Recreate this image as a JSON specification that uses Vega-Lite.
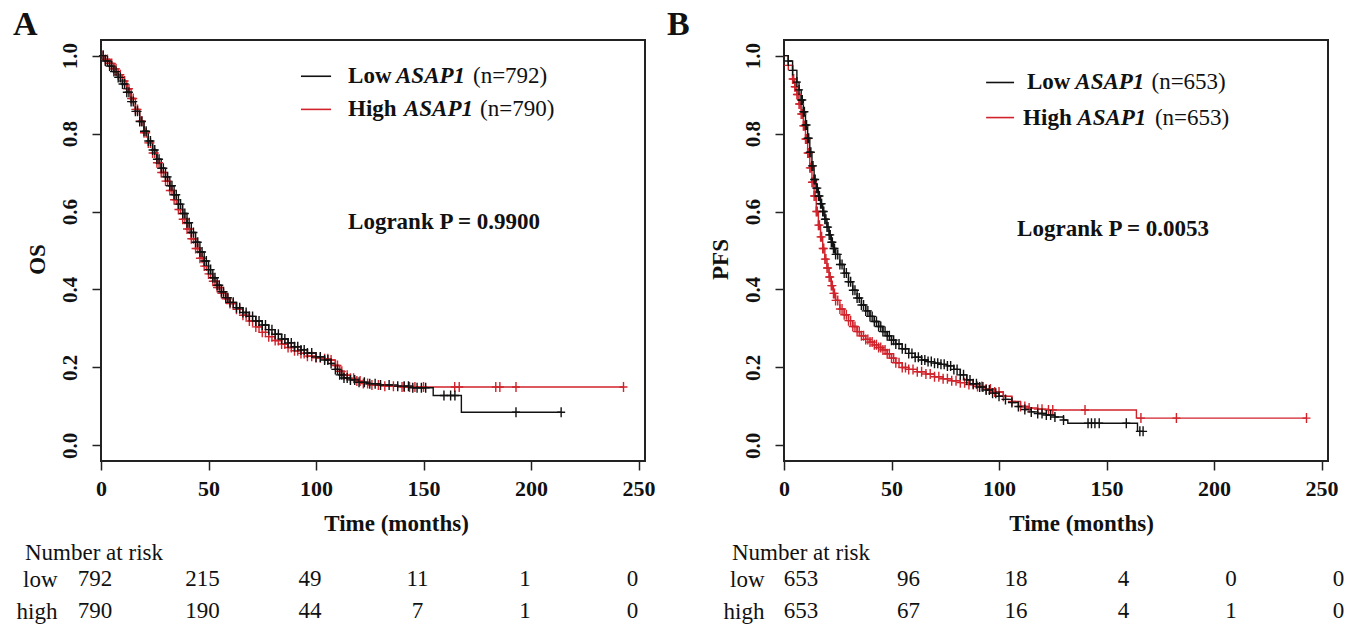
{
"$schema":"https://vega.github.io/schema/vega-lite/v6.json",
"background":"white",
"padding":{"left":12,"top":7,"right":5,"bottom":0},
"columns":2,
"bounds":"flush",
"spacing":{"row":102,"column":139},
"config":{"font":"Liberation Serif","view":{"stroke":"#222","strokeWidth":2},
"axis":{"grid":false,"domain":false,"tickColor":"#222","tickWidth":1.5,"tickSize":9,"labelColor":"#111","titleColor":"#111","labelFontSize":22,"labelFontWeight":"bold","titleFontSize":23,"titleFontWeight":"bold"},
"title":{"color":"#111"}},
"datasets":{
"km":[
{"p":"A","g":"High","t":0,"s":1,"c":0},{"p":"A","g":"High","t":2,"s":0.99,"c":1},{"p":"A","g":"High","t":4,"s":0.98,"c":1},{"p":"A","g":"High","t":6,"s":0.966,"c":1},{"p":"A","g":"High","t":8,"s":0.951,"c":1},{"p":"A","g":"High","t":10,"s":0.935,"c":1},{"p":"A","g":"High","t":12,"s":0.915,"c":1},{"p":"A","g":"High","t":14,"s":0.89,"c":1},{"p":"A","g":"High","t":16,"s":0.862,"c":1},{"p":"A","g":"High","t":18,"s":0.832,"c":1},{"p":"A","g":"High","t":20,"s":0.802,"c":1},{"p":"A","g":"High","t":22,"s":0.776,"c":1},{"p":"A","g":"High","t":24,"s":0.75,"c":1},{"p":"A","g":"High","t":26,"s":0.725,"c":1},{"p":"A","g":"High","t":28,"s":0.7,"c":1},{"p":"A","g":"High","t":30,"s":0.678,"c":1},{"p":"A","g":"High","t":32,"s":0.654,"c":1},{"p":"A","g":"High","t":34,"s":0.63,"c":1},{"p":"A","g":"High","t":36,"s":0.605,"c":1},{"p":"A","g":"High","t":38,"s":0.58,"c":1},{"p":"A","g":"High","t":40,"s":0.555,"c":1},{"p":"A","g":"High","t":42,"s":0.53,"c":1},{"p":"A","g":"High","t":44,"s":0.505,"c":1},{"p":"A","g":"High","t":46,"s":0.48,"c":1},{"p":"A","g":"High","t":48,"s":0.46,"c":1},{"p":"A","g":"High","t":50,"s":0.44,"c":1},{"p":"A","g":"High","t":52,"s":0.421,"c":1},{"p":"A","g":"High","t":54,"s":0.405,"c":1},{"p":"A","g":"High","t":56,"s":0.39,"c":1},{"p":"A","g":"High","t":58,"s":0.376,"c":1},{"p":"A","g":"High","t":60,"s":0.364,"c":1},{"p":"A","g":"High","t":63,"s":0.349,"c":1},{"p":"A","g":"High","t":66,"s":0.334,"c":1},{"p":"A","g":"High","t":69,"s":0.319,"c":1},{"p":"A","g":"High","t":72,"s":0.304,"c":1},{"p":"A","g":"High","t":75,"s":0.29,"c":1},{"p":"A","g":"High","t":78,"s":0.279,"c":1},{"p":"A","g":"High","t":81,"s":0.269,"c":1},{"p":"A","g":"High","t":84,"s":0.26,"c":1},{"p":"A","g":"High","t":87,"s":0.251,"c":1},{"p":"A","g":"High","t":90,"s":0.243,"c":1},{"p":"A","g":"High","t":93,"s":0.236,"c":1},{"p":"A","g":"High","t":96,"s":0.229,"c":1},{"p":"A","g":"High","t":100,"s":0.225,"c":1},{"p":"A","g":"High","t":104,"s":0.222,"c":1},{"p":"A","g":"High","t":107,"s":0.219,"c":1},{"p":"A","g":"High","t":109,"s":0.205,"c":1},{"p":"A","g":"High","t":111,"s":0.19,"c":1},{"p":"A","g":"High","t":113,"s":0.18,"c":1},{"p":"A","g":"High","t":116,"s":0.172,"c":1},{"p":"A","g":"High","t":119,"s":0.165,"c":1},{"p":"A","g":"High","t":122,"s":0.159,"c":1},{"p":"A","g":"High","t":126,"s":0.155,"c":1},{"p":"A","g":"High","t":132,"s":0.152,"c":1},{"p":"A","g":"High","t":140,"s":0.15,"c":1},{"p":"A","g":"High","t":141,"s":0.15,"c":1},{"p":"A","g":"High","t":143.5,"s":0.15,"c":1},{"p":"A","g":"High","t":146,"s":0.15,"c":1},{"p":"A","g":"High","t":150,"s":0.15,"c":1},{"p":"A","g":"High","t":164.5,"s":0.15,"c":1},{"p":"A","g":"High","t":166.6,"s":0.15,"c":1},{"p":"A","g":"High","t":183.6,"s":0.15,"c":1},{"p":"A","g":"High","t":185.5,"s":0.15,"c":1},{"p":"A","g":"High","t":193,"s":0.15,"c":1},{"p":"A","g":"High","t":243,"s":0.15,"c":1},
{"p":"A","g":"High","t":1,"s":1,"c":1},{"p":"A","g":"High","t":3,"s":0.99,"c":1},{"p":"A","g":"High","t":5,"s":0.98,"c":1},{"p":"A","g":"High","t":7,"s":0.966,"c":1},{"p":"A","g":"High","t":9,"s":0.951,"c":1},{"p":"A","g":"High","t":11,"s":0.935,"c":1},{"p":"A","g":"High","t":13,"s":0.915,"c":1},{"p":"A","g":"High","t":15,"s":0.89,"c":1},{"p":"A","g":"High","t":17,"s":0.862,"c":1},{"p":"A","g":"High","t":19,"s":0.832,"c":1},{"p":"A","g":"High","t":21,"s":0.802,"c":1},{"p":"A","g":"High","t":23,"s":0.776,"c":1},{"p":"A","g":"High","t":25,"s":0.75,"c":1},{"p":"A","g":"High","t":27,"s":0.725,"c":1},{"p":"A","g":"High","t":29,"s":0.7,"c":1},{"p":"A","g":"High","t":31,"s":0.678,"c":1},{"p":"A","g":"High","t":33,"s":0.654,"c":1},{"p":"A","g":"High","t":35,"s":0.63,"c":1},{"p":"A","g":"High","t":37,"s":0.605,"c":1},{"p":"A","g":"High","t":39,"s":0.58,"c":1},{"p":"A","g":"High","t":41,"s":0.555,"c":1},{"p":"A","g":"High","t":43,"s":0.53,"c":1},{"p":"A","g":"High","t":45,"s":0.505,"c":1},{"p":"A","g":"High","t":47,"s":0.48,"c":1},{"p":"A","g":"High","t":49,"s":0.46,"c":1},{"p":"A","g":"High","t":51,"s":0.44,"c":1},{"p":"A","g":"High","t":53,"s":0.421,"c":1},{"p":"A","g":"High","t":55,"s":0.405,"c":1},{"p":"A","g":"High","t":57,"s":0.39,"c":1},{"p":"A","g":"High","t":59,"s":0.376,"c":1},{"p":"A","g":"High","t":61.5,"s":0.364,"c":1},{"p":"A","g":"High","t":64.5,"s":0.349,"c":1},{"p":"A","g":"High","t":67.5,"s":0.334,"c":1},{"p":"A","g":"High","t":70.5,"s":0.319,"c":1},{"p":"A","g":"High","t":73.5,"s":0.304,"c":1},{"p":"A","g":"High","t":76.5,"s":0.29,"c":1},{"p":"A","g":"High","t":79.5,"s":0.279,"c":1},{"p":"A","g":"High","t":82.5,"s":0.269,"c":1},{"p":"A","g":"High","t":85.5,"s":0.26,"c":1},{"p":"A","g":"High","t":88.5,"s":0.251,"c":1},{"p":"A","g":"High","t":91.5,"s":0.243,"c":1},{"p":"A","g":"High","t":94.5,"s":0.236,"c":1},{"p":"A","g":"High","t":98,"s":0.229,"c":1},{"p":"A","g":"High","t":102,"s":0.225,"c":1},{"p":"A","g":"High","t":105.5,"s":0.222,"c":1},{"p":"A","g":"High","t":110,"s":0.205,"c":1},{"p":"A","g":"High","t":112,"s":0.19,"c":1},{"p":"A","g":"High","t":114.5,"s":0.18,"c":1},{"p":"A","g":"High","t":117.5,"s":0.172,"c":1},{"p":"A","g":"High","t":120.5,"s":0.165,"c":1},{"p":"A","g":"High","t":124,"s":0.159,"c":1},{"p":"A","g":"High","t":129,"s":0.155,"c":1},{"p":"A","g":"High","t":136,"s":0.152,"c":1},
{"p":"A","g":"Low","t":0,"s":1,"c":0},{"p":"A","g":"Low","t":2,"s":0.986,"c":1},{"p":"A","g":"Low","t":4,"s":0.973,"c":1},{"p":"A","g":"Low","t":6,"s":0.959,"c":1},{"p":"A","g":"Low","t":8,"s":0.944,"c":1},{"p":"A","g":"Low","t":10,"s":0.927,"c":1},{"p":"A","g":"Low","t":12,"s":0.906,"c":1},{"p":"A","g":"Low","t":14,"s":0.882,"c":1},{"p":"A","g":"Low","t":16,"s":0.857,"c":1},{"p":"A","g":"Low","t":18,"s":0.831,"c":1},{"p":"A","g":"Low","t":20,"s":0.806,"c":1},{"p":"A","g":"Low","t":22,"s":0.781,"c":1},{"p":"A","g":"Low","t":24,"s":0.758,"c":1},{"p":"A","g":"Low","t":26,"s":0.734,"c":1},{"p":"A","g":"Low","t":28,"s":0.711,"c":1},{"p":"A","g":"Low","t":30,"s":0.689,"c":1},{"p":"A","g":"Low","t":32,"s":0.666,"c":1},{"p":"A","g":"Low","t":34,"s":0.643,"c":1},{"p":"A","g":"Low","t":36,"s":0.619,"c":1},{"p":"A","g":"Low","t":38,"s":0.595,"c":1},{"p":"A","g":"Low","t":40,"s":0.571,"c":1},{"p":"A","g":"Low","t":42,"s":0.546,"c":1},{"p":"A","g":"Low","t":44,"s":0.521,"c":1},{"p":"A","g":"Low","t":46,"s":0.496,"c":1},{"p":"A","g":"Low","t":48,"s":0.473,"c":1},{"p":"A","g":"Low","t":50,"s":0.451,"c":1},{"p":"A","g":"Low","t":52,"s":0.43,"c":1},{"p":"A","g":"Low","t":54,"s":0.411,"c":1},{"p":"A","g":"Low","t":56,"s":0.394,"c":1},{"p":"A","g":"Low","t":58,"s":0.379,"c":1},{"p":"A","g":"Low","t":60,"s":0.367,"c":1},{"p":"A","g":"Low","t":63,"s":0.353,"c":1},{"p":"A","g":"Low","t":66,"s":0.341,"c":1},{"p":"A","g":"Low","t":69,"s":0.331,"c":1},{"p":"A","g":"Low","t":72,"s":0.319,"c":1},{"p":"A","g":"Low","t":75,"s":0.309,"c":1},{"p":"A","g":"Low","t":78,"s":0.297,"c":1},{"p":"A","g":"Low","t":81,"s":0.285,"c":1},{"p":"A","g":"Low","t":84,"s":0.273,"c":1},{"p":"A","g":"Low","t":87,"s":0.263,"c":1},{"p":"A","g":"Low","t":90,"s":0.253,"c":1},{"p":"A","g":"Low","t":93,"s":0.245,"c":1},{"p":"A","g":"Low","t":96,"s":0.237,"c":1},{"p":"A","g":"Low","t":100,"s":0.227,"c":1},{"p":"A","g":"Low","t":104,"s":0.219,"c":1},{"p":"A","g":"Low","t":107,"s":0.21,"c":1},{"p":"A","g":"Low","t":109,"s":0.195,"c":1},{"p":"A","g":"Low","t":111,"s":0.181,"c":1},{"p":"A","g":"Low","t":113,"s":0.173,"c":1},{"p":"A","g":"Low","t":116,"s":0.168,"c":1},{"p":"A","g":"Low","t":120,"s":0.162,"c":1},{"p":"A","g":"Low","t":125,"s":0.158,"c":1},{"p":"A","g":"Low","t":130,"s":0.155,"c":1},{"p":"A","g":"Low","t":138,"s":0.152,"c":1},{"p":"A","g":"Low","t":141,"s":0.152,"c":1},{"p":"A","g":"Low","t":143,"s":0.152,"c":1},{"p":"A","g":"Low","t":145,"s":0.148,"c":1},{"p":"A","g":"Low","t":147,"s":0.148,"c":1},{"p":"A","g":"Low","t":149,"s":0.148,"c":1},{"p":"A","g":"Low","t":151,"s":0.148,"c":1},{"p":"A","g":"Low","t":154.5,"s":0.128,"c":0},{"p":"A","g":"Low","t":159.5,"s":0.128,"c":1},{"p":"A","g":"Low","t":162.6,"s":0.128,"c":1},{"p":"A","g":"Low","t":164.6,"s":0.128,"c":1},{"p":"A","g":"Low","t":167.6,"s":0.085,"c":0},{"p":"A","g":"Low","t":193,"s":0.085,"c":1},{"p":"A","g":"Low","t":214,"s":0.085,"c":1},
{"p":"A","g":"Low","t":1,"s":1,"c":1},{"p":"A","g":"Low","t":3,"s":0.986,"c":1},{"p":"A","g":"Low","t":5,"s":0.973,"c":1},{"p":"A","g":"Low","t":7,"s":0.959,"c":1},{"p":"A","g":"Low","t":9,"s":0.944,"c":1},{"p":"A","g":"Low","t":11,"s":0.927,"c":1},{"p":"A","g":"Low","t":13,"s":0.906,"c":1},{"p":"A","g":"Low","t":15,"s":0.882,"c":1},{"p":"A","g":"Low","t":17,"s":0.857,"c":1},{"p":"A","g":"Low","t":19,"s":0.831,"c":1},{"p":"A","g":"Low","t":21,"s":0.806,"c":1},{"p":"A","g":"Low","t":23,"s":0.781,"c":1},{"p":"A","g":"Low","t":25,"s":0.758,"c":1},{"p":"A","g":"Low","t":27,"s":0.734,"c":1},{"p":"A","g":"Low","t":29,"s":0.711,"c":1},{"p":"A","g":"Low","t":31,"s":0.689,"c":1},{"p":"A","g":"Low","t":33,"s":0.666,"c":1},{"p":"A","g":"Low","t":35,"s":0.643,"c":1},{"p":"A","g":"Low","t":37,"s":0.619,"c":1},{"p":"A","g":"Low","t":39,"s":0.595,"c":1},{"p":"A","g":"Low","t":41,"s":0.571,"c":1},{"p":"A","g":"Low","t":43,"s":0.546,"c":1},{"p":"A","g":"Low","t":45,"s":0.521,"c":1},{"p":"A","g":"Low","t":47,"s":0.496,"c":1},{"p":"A","g":"Low","t":49,"s":0.473,"c":1},{"p":"A","g":"Low","t":51,"s":0.451,"c":1},{"p":"A","g":"Low","t":53,"s":0.43,"c":1},{"p":"A","g":"Low","t":55,"s":0.411,"c":1},{"p":"A","g":"Low","t":57,"s":0.394,"c":1},{"p":"A","g":"Low","t":59,"s":0.379,"c":1},{"p":"A","g":"Low","t":61.5,"s":0.367,"c":1},{"p":"A","g":"Low","t":64.5,"s":0.353,"c":1},{"p":"A","g":"Low","t":67.5,"s":0.341,"c":1},{"p":"A","g":"Low","t":70.5,"s":0.331,"c":1},{"p":"A","g":"Low","t":73.5,"s":0.319,"c":1},{"p":"A","g":"Low","t":76.5,"s":0.309,"c":1},{"p":"A","g":"Low","t":79.5,"s":0.297,"c":1},{"p":"A","g":"Low","t":82.5,"s":0.285,"c":1},{"p":"A","g":"Low","t":85.5,"s":0.273,"c":1},{"p":"A","g":"Low","t":88.5,"s":0.263,"c":1},{"p":"A","g":"Low","t":91.5,"s":0.253,"c":1},{"p":"A","g":"Low","t":94.5,"s":0.245,"c":1},{"p":"A","g":"Low","t":98,"s":0.237,"c":1},{"p":"A","g":"Low","t":102,"s":0.227,"c":1},{"p":"A","g":"Low","t":105.5,"s":0.219,"c":1},{"p":"A","g":"Low","t":110,"s":0.195,"c":1},{"p":"A","g":"Low","t":112,"s":0.181,"c":1},{"p":"A","g":"Low","t":114.5,"s":0.173,"c":1},{"p":"A","g":"Low","t":118,"s":0.168,"c":1},{"p":"A","g":"Low","t":122.5,"s":0.162,"c":1},{"p":"A","g":"Low","t":127.5,"s":0.158,"c":1},{"p":"A","g":"Low","t":134,"s":0.155,"c":1},
{"p":"B","g":"High","t":0,"s":1,"c":0},{"p":"B","g":"High","t":2,"s":0.975,"c":1},{"p":"B","g":"High","t":4,"s":0.94,"c":1},{"p":"B","g":"High","t":5,"s":0.92,"c":1},{"p":"B","g":"High","t":6,"s":0.9,"c":1},{"p":"B","g":"High","t":7,"s":0.876,"c":1},{"p":"B","g":"High","t":8,"s":0.85,"c":1},{"p":"B","g":"High","t":9,"s":0.82,"c":1},{"p":"B","g":"High","t":10,"s":0.786,"c":1},{"p":"B","g":"High","t":11,"s":0.75,"c":1},{"p":"B","g":"High","t":12,"s":0.712,"c":1},{"p":"B","g":"High","t":13,"s":0.675,"c":1},{"p":"B","g":"High","t":14,"s":0.64,"c":1},{"p":"B","g":"High","t":15,"s":0.6,"c":1},{"p":"B","g":"High","t":16,"s":0.565,"c":1},{"p":"B","g":"High","t":17,"s":0.535,"c":1},{"p":"B","g":"High","t":18,"s":0.505,"c":1},{"p":"B","g":"High","t":19,"s":0.478,"c":1},{"p":"B","g":"High","t":20,"s":0.455,"c":1},{"p":"B","g":"High","t":21,"s":0.432,"c":1},{"p":"B","g":"High","t":22,"s":0.41,"c":1},{"p":"B","g":"High","t":23,"s":0.39,"c":1},{"p":"B","g":"High","t":24,"s":0.372,"c":1},{"p":"B","g":"High","t":26,"s":0.35,"c":1},{"p":"B","g":"High","t":28,"s":0.335,"c":1},{"p":"B","g":"High","t":30,"s":0.32,"c":1},{"p":"B","g":"High","t":32,"s":0.305,"c":1},{"p":"B","g":"High","t":34,"s":0.292,"c":1},{"p":"B","g":"High","t":36,"s":0.281,"c":1},{"p":"B","g":"High","t":38,"s":0.272,"c":1},{"p":"B","g":"High","t":40,"s":0.265,"c":1},{"p":"B","g":"High","t":42,"s":0.258,"c":1},{"p":"B","g":"High","t":44,"s":0.251,"c":1},{"p":"B","g":"High","t":46,"s":0.245,"c":1},{"p":"B","g":"High","t":48,"s":0.235,"c":1},{"p":"B","g":"High","t":50,"s":0.224,"c":1},{"p":"B","g":"High","t":52,"s":0.212,"c":1},{"p":"B","g":"High","t":55,"s":0.2,"c":1},{"p":"B","g":"High","t":58,"s":0.195,"c":1},{"p":"B","g":"High","t":62,"s":0.189,"c":1},{"p":"B","g":"High","t":66,"s":0.183,"c":1},{"p":"B","g":"High","t":70,"s":0.176,"c":1},{"p":"B","g":"High","t":74,"s":0.171,"c":1},{"p":"B","g":"High","t":78,"s":0.166,"c":1},{"p":"B","g":"High","t":82,"s":0.161,"c":1},{"p":"B","g":"High","t":86,"s":0.156,"c":1},{"p":"B","g":"High","t":90,"s":0.151,"c":1},{"p":"B","g":"High","t":94,"s":0.145,"c":1},{"p":"B","g":"High","t":98,"s":0.137,"c":1},{"p":"B","g":"High","t":102,"s":0.126,"c":1},{"p":"B","g":"High","t":106,"s":0.113,"c":1},{"p":"B","g":"High","t":110,"s":0.1,"c":1},{"p":"B","g":"High","t":112,"s":0.1,"c":1},{"p":"B","g":"High","t":114,"s":0.096,"c":1},{"p":"B","g":"High","t":118,"s":0.093,"c":1},{"p":"B","g":"High","t":120,"s":0.093,"c":1},{"p":"B","g":"High","t":123,"s":0.091,"c":1},{"p":"B","g":"High","t":125,"s":0.091,"c":1},{"p":"B","g":"High","t":140,"s":0.091,"c":1},{"p":"B","g":"High","t":163.9,"s":0.07,"c":0},{"p":"B","g":"High","t":166,"s":0.07,"c":1},{"p":"B","g":"High","t":182.5,"s":0.07,"c":1},{"p":"B","g":"High","t":243,"s":0.07,"c":1},
{"p":"B","g":"High","t":4.5,"s":0.94,"c":1},{"p":"B","g":"High","t":5.5,"s":0.92,"c":1},{"p":"B","g":"High","t":6.5,"s":0.9,"c":1},{"p":"B","g":"High","t":7.5,"s":0.876,"c":1},{"p":"B","g":"High","t":8.5,"s":0.85,"c":1},{"p":"B","g":"High","t":9.5,"s":0.82,"c":1},{"p":"B","g":"High","t":10.5,"s":0.786,"c":1},{"p":"B","g":"High","t":11.5,"s":0.75,"c":1},{"p":"B","g":"High","t":12.5,"s":0.712,"c":1},{"p":"B","g":"High","t":13.5,"s":0.675,"c":1},{"p":"B","g":"High","t":14.5,"s":0.64,"c":1},{"p":"B","g":"High","t":15.5,"s":0.6,"c":1},{"p":"B","g":"High","t":16.5,"s":0.565,"c":1},{"p":"B","g":"High","t":17.5,"s":0.535,"c":1},{"p":"B","g":"High","t":18.5,"s":0.505,"c":1},{"p":"B","g":"High","t":19.5,"s":0.478,"c":1},{"p":"B","g":"High","t":20.5,"s":0.455,"c":1},{"p":"B","g":"High","t":21.5,"s":0.432,"c":1},{"p":"B","g":"High","t":22.5,"s":0.41,"c":1},{"p":"B","g":"High","t":23.5,"s":0.39,"c":1},{"p":"B","g":"High","t":25,"s":0.372,"c":1},{"p":"B","g":"High","t":27,"s":0.35,"c":1},{"p":"B","g":"High","t":29,"s":0.335,"c":1},{"p":"B","g":"High","t":31,"s":0.32,"c":1},{"p":"B","g":"High","t":33,"s":0.305,"c":1},{"p":"B","g":"High","t":35,"s":0.292,"c":1},{"p":"B","g":"High","t":37,"s":0.281,"c":1},{"p":"B","g":"High","t":39,"s":0.272,"c":1},{"p":"B","g":"High","t":41,"s":0.265,"c":1},{"p":"B","g":"High","t":43,"s":0.258,"c":1},{"p":"B","g":"High","t":45,"s":0.251,"c":1},{"p":"B","g":"High","t":47,"s":0.245,"c":1},{"p":"B","g":"High","t":49,"s":0.235,"c":1},{"p":"B","g":"High","t":51,"s":0.224,"c":1},{"p":"B","g":"High","t":53.5,"s":0.212,"c":1},{"p":"B","g":"High","t":56.5,"s":0.2,"c":1},{"p":"B","g":"High","t":60,"s":0.195,"c":1},{"p":"B","g":"High","t":64,"s":0.189,"c":1},{"p":"B","g":"High","t":68,"s":0.183,"c":1},{"p":"B","g":"High","t":72,"s":0.176,"c":1},{"p":"B","g":"High","t":76,"s":0.171,"c":1},{"p":"B","g":"High","t":80,"s":0.166,"c":1},{"p":"B","g":"High","t":84,"s":0.161,"c":1},{"p":"B","g":"High","t":88,"s":0.156,"c":1},{"p":"B","g":"High","t":92,"s":0.151,"c":1},{"p":"B","g":"High","t":96,"s":0.145,"c":1},{"p":"B","g":"High","t":100,"s":0.137,"c":1},
{"p":"B","g":"Low","t":0,"s":1,"c":0},{"p":"B","g":"Low","t":2,"s":0.986,"c":1},{"p":"B","g":"Low","t":4,"s":0.962,"c":1},{"p":"B","g":"Low","t":6,"s":0.932,"c":1},{"p":"B","g":"Low","t":7,"s":0.912,"c":1},{"p":"B","g":"Low","t":8,"s":0.886,"c":1},{"p":"B","g":"Low","t":9,"s":0.856,"c":1},{"p":"B","g":"Low","t":10,"s":0.822,"c":1},{"p":"B","g":"Low","t":11,"s":0.788,"c":1},{"p":"B","g":"Low","t":12,"s":0.752,"c":1},{"p":"B","g":"Low","t":13,"s":0.717,"c":1},{"p":"B","g":"Low","t":14,"s":0.682,"c":1},{"p":"B","g":"Low","t":15,"s":0.66,"c":1},{"p":"B","g":"Low","t":16,"s":0.64,"c":1},{"p":"B","g":"Low","t":17,"s":0.62,"c":1},{"p":"B","g":"Low","t":18,"s":0.6,"c":1},{"p":"B","g":"Low","t":19,"s":0.58,"c":1},{"p":"B","g":"Low","t":20,"s":0.56,"c":1},{"p":"B","g":"Low","t":21,"s":0.54,"c":1},{"p":"B","g":"Low","t":22,"s":0.521,"c":1},{"p":"B","g":"Low","t":23,"s":0.505,"c":1},{"p":"B","g":"Low","t":24,"s":0.49,"c":1},{"p":"B","g":"Low","t":26,"s":0.464,"c":1},{"p":"B","g":"Low","t":28,"s":0.442,"c":1},{"p":"B","g":"Low","t":30,"s":0.42,"c":1},{"p":"B","g":"Low","t":32,"s":0.398,"c":1},{"p":"B","g":"Low","t":34,"s":0.378,"c":1},{"p":"B","g":"Low","t":36,"s":0.36,"c":1},{"p":"B","g":"Low","t":38,"s":0.345,"c":1},{"p":"B","g":"Low","t":40,"s":0.331,"c":1},{"p":"B","g":"Low","t":42,"s":0.318,"c":1},{"p":"B","g":"Low","t":44,"s":0.305,"c":1},{"p":"B","g":"Low","t":46,"s":0.292,"c":1},{"p":"B","g":"Low","t":48,"s":0.281,"c":1},{"p":"B","g":"Low","t":50,"s":0.27,"c":1},{"p":"B","g":"Low","t":52,"s":0.26,"c":1},{"p":"B","g":"Low","t":55,"s":0.248,"c":1},{"p":"B","g":"Low","t":58,"s":0.236,"c":1},{"p":"B","g":"Low","t":61,"s":0.226,"c":1},{"p":"B","g":"Low","t":64,"s":0.219,"c":1},{"p":"B","g":"Low","t":67,"s":0.215,"c":1},{"p":"B","g":"Low","t":70,"s":0.211,"c":1},{"p":"B","g":"Low","t":73,"s":0.208,"c":1},{"p":"B","g":"Low","t":76,"s":0.204,"c":1},{"p":"B","g":"Low","t":79,"s":0.195,"c":1},{"p":"B","g":"Low","t":82,"s":0.181,"c":1},{"p":"B","g":"Low","t":85,"s":0.168,"c":1},{"p":"B","g":"Low","t":88,"s":0.158,"c":1},{"p":"B","g":"Low","t":91,"s":0.15,"c":1},{"p":"B","g":"Low","t":94,"s":0.142,"c":1},{"p":"B","g":"Low","t":97,"s":0.134,"c":1},{"p":"B","g":"Low","t":100,"s":0.126,"c":1},{"p":"B","g":"Low","t":103,"s":0.118,"c":1},{"p":"B","g":"Low","t":106,"s":0.11,"c":1},{"p":"B","g":"Low","t":109,"s":0.1,"c":1},{"p":"B","g":"Low","t":112,"s":0.092,"c":1},{"p":"B","g":"Low","t":115,"s":0.086,"c":1},{"p":"B","g":"Low","t":118,"s":0.082,"c":1},{"p":"B","g":"Low","t":120,"s":0.082,"c":1},{"p":"B","g":"Low","t":122,"s":0.078,"c":1},{"p":"B","g":"Low","t":124,"s":0.078,"c":1},{"p":"B","g":"Low","t":126,"s":0.073,"c":1},{"p":"B","g":"Low","t":130,"s":0.065,"c":1},{"p":"B","g":"Low","t":132,"s":0.057,"c":0},{"p":"B","g":"Low","t":141.4,"s":0.057,"c":1},{"p":"B","g":"Low","t":143,"s":0.057,"c":1},{"p":"B","g":"Low","t":144.6,"s":0.057,"c":1},{"p":"B","g":"Low","t":146.6,"s":0.057,"c":1},{"p":"B","g":"Low","t":159.2,"s":0.057,"c":1},{"p":"B","g":"Low","t":164.4,"s":0.036,"c":0},{"p":"B","g":"Low","t":165.5,"s":0.036,"c":1},{"p":"B","g":"Low","t":167,"s":0.036,"c":1},
{"p":"B","g":"Low","t":8.5,"s":0.886,"c":1},{"p":"B","g":"Low","t":9.5,"s":0.856,"c":1},{"p":"B","g":"Low","t":10.5,"s":0.822,"c":1},{"p":"B","g":"Low","t":11.5,"s":0.788,"c":1},{"p":"B","g":"Low","t":12.5,"s":0.752,"c":1},{"p":"B","g":"Low","t":13.5,"s":0.717,"c":1},{"p":"B","g":"Low","t":14.5,"s":0.682,"c":1},{"p":"B","g":"Low","t":15.5,"s":0.66,"c":1},{"p":"B","g":"Low","t":16.5,"s":0.64,"c":1},{"p":"B","g":"Low","t":17.5,"s":0.62,"c":1},{"p":"B","g":"Low","t":18.5,"s":0.6,"c":1},{"p":"B","g":"Low","t":19.5,"s":0.58,"c":1},{"p":"B","g":"Low","t":20.5,"s":0.56,"c":1},{"p":"B","g":"Low","t":21.5,"s":0.54,"c":1},{"p":"B","g":"Low","t":22.5,"s":0.521,"c":1},{"p":"B","g":"Low","t":23.5,"s":0.505,"c":1},{"p":"B","g":"Low","t":25,"s":0.49,"c":1},{"p":"B","g":"Low","t":27,"s":0.464,"c":1},{"p":"B","g":"Low","t":29,"s":0.442,"c":1},{"p":"B","g":"Low","t":31,"s":0.42,"c":1},{"p":"B","g":"Low","t":33,"s":0.398,"c":1},{"p":"B","g":"Low","t":35,"s":0.378,"c":1},{"p":"B","g":"Low","t":37,"s":0.36,"c":1},{"p":"B","g":"Low","t":39,"s":0.345,"c":1},{"p":"B","g":"Low","t":41,"s":0.331,"c":1},{"p":"B","g":"Low","t":43,"s":0.318,"c":1},{"p":"B","g":"Low","t":45,"s":0.305,"c":1},{"p":"B","g":"Low","t":47,"s":0.292,"c":1},{"p":"B","g":"Low","t":49,"s":0.281,"c":1},{"p":"B","g":"Low","t":51,"s":0.27,"c":1},{"p":"B","g":"Low","t":53.5,"s":0.26,"c":1},{"p":"B","g":"Low","t":56.5,"s":0.248,"c":1},{"p":"B","g":"Low","t":59.5,"s":0.236,"c":1},{"p":"B","g":"Low","t":62.5,"s":0.226,"c":1},{"p":"B","g":"Low","t":65.5,"s":0.219,"c":1},{"p":"B","g":"Low","t":68.5,"s":0.215,"c":1},{"p":"B","g":"Low","t":71.5,"s":0.211,"c":1},{"p":"B","g":"Low","t":74.5,"s":0.208,"c":1},{"p":"B","g":"Low","t":77.5,"s":0.204,"c":1},{"p":"B","g":"Low","t":80.5,"s":0.195,"c":1},{"p":"B","g":"Low","t":83.5,"s":0.181,"c":1},{"p":"B","g":"Low","t":86.5,"s":0.168,"c":1},{"p":"B","g":"Low","t":89.5,"s":0.158,"c":1},{"p":"B","g":"Low","t":92.5,"s":0.15,"c":1},{"p":"B","g":"Low","t":95.5,"s":0.142,"c":1},{"p":"B","g":"Low","t":98.5,"s":0.134,"c":1}
],
"legline":[
{"p":"A","g":"Low","t":93,"t2":107,"s":0.947},{"p":"A","g":"High","t":93,"t2":107,"s":0.862},
{"p":"B","g":"Low","t":94,"t2":107,"s":0.931},{"p":"B","g":"High","t":94,"t2":107,"s":0.841}
],
"leg":[
{"p":"A","seg":"b","t":114.9,"s":0.947,"txt":"Low"},{"p":"A","seg":"i","t":137.2,"s":0.947,"txt":"ASAP1"},{"p":"A","seg":"r","t":173.0,"s":0.947,"txt":"(n=792)"},
{"p":"A","seg":"b","t":114.9,"s":0.862,"txt":"High"},{"p":"A","seg":"i","t":140.9,"s":0.862,"txt":"ASAP1"},{"p":"A","seg":"r","t":176.3,"s":0.862,"txt":"(n=790)"},
{"p":"B","seg":"b","t":113,"s":0.931,"txt":"Low"},{"p":"B","seg":"i","t":135.5,"s":0.931,"txt":"ASAP1"},{"p":"B","seg":"r","t":170.9,"s":0.931,"txt":"(n=653)"},
{"p":"B","seg":"b","t":111.2,"s":0.841,"txt":"High"},{"p":"B","seg":"i","t":136.4,"s":0.841,"txt":"ASAP1"},{"p":"B","seg":"r","t":172.5,"s":0.841,"txt":"(n=653)"}
],
"logrank":[
{"p":"A","t":114.9,"s":0.572,"txt":"Logrank P = 0.9900"},
{"p":"B","t":108.4,"s":0.555,"txt":"Logrank P = 0.0053"}
],
"risk":[
{"p":"A","row":"low","t":0,"n":792},{"p":"A","row":"low","t":50,"n":215},{"p":"A","row":"low","t":100,"n":49},{"p":"A","row":"low","t":150,"n":11},{"p":"A","row":"low","t":200,"n":1},{"p":"A","row":"low","t":250,"n":0},
{"p":"A","row":"high","t":0,"n":790},{"p":"A","row":"high","t":50,"n":190},{"p":"A","row":"high","t":100,"n":44},{"p":"A","row":"high","t":150,"n":7},{"p":"A","row":"high","t":200,"n":1},{"p":"A","row":"high","t":250,"n":0},
{"p":"B","row":"low","t":0,"n":653},{"p":"B","row":"low","t":50,"n":96},{"p":"B","row":"low","t":100,"n":18},{"p":"B","row":"low","t":150,"n":4},{"p":"B","row":"low","t":200,"n":0},{"p":"B","row":"low","t":250,"n":0},
{"p":"B","row":"high","t":0,"n":653},{"p":"B","row":"high","t":50,"n":67},{"p":"B","row":"high","t":100,"n":16},{"p":"B","row":"high","t":150,"n":4},{"p":"B","row":"high","t":200,"n":1},{"p":"B","row":"high","t":250,"n":0}
]
},
"concat":[
{
"width":544,"height":421,
"title":{"text":"A","anchor":"start","frame":"group","dx":-88,"offset":-29,"fontSize":34,"fontWeight":"bold","baseline":"alphabetic"},
"layer":[
{"data":{"name":"km"},"transform":[{"filter":"datum.p==='A'"}],
"mark":{"type":"line","interpolate":"step-after","strokeWidth":1.4},
"encoding":{
"x":{"field":"t","type":"quantitative","scale":{"domain":[0,253],"nice":false,"zero":false},
"axis":{"values":[0,50,100,150,200,250],"title":"Time (months)","labelBaseline":"alphabetic","labelPadding":25,"labelFlush":false,"labelOverlap":false,"titleX":295,"titleY":69,"titleAlign":"center","titleBaseline":"alphabetic"}},
"y":{"field":"s","type":"quantitative","scale":{"domain":[-0.04,1.04],"nice":false,"zero":false},
"axis":{"values":[0,0.2,0.4,0.6,0.8,1],"format":".1f","title":"OS","labelAngle":270,"labelAlign":"center","labelBaseline":"alphabetic","labelPadding":16,"labelFontSize":21,"labelFlush":false,"labelOverlap":false,"titleAngle":270,"titleX":-57,"titleY":219,"titleAlign":"center","titleBaseline":"alphabetic"}},
"color":{"field":"g","type":"nominal","scale":{"domain":["Low","High"],"range":["#111111","#d0232b"]},"legend":null}}},
{"data":{"name":"km"},"transform":[{"filter":"datum.p==='A' && datum.c===1"}],
"mark":{"type":"point","shape":"M-0.8,0H0.8M0,-1V1","size":100,"strokeWidth":1.4,"filled":false,"opacity":1},
"encoding":{"x":{"field":"t","type":"quantitative"},"y":{"field":"s","type":"quantitative"},"color":{"field":"g","type":"nominal"}}},
{"data":{"name":"legline"},"transform":[{"filter":"datum.p==='A'"}],
"mark":{"type":"rule","strokeWidth":1.6},
"encoding":{"x":{"field":"t","type":"quantitative"},"x2":{"field":"t2"},"y":{"field":"s","type":"quantitative"},"color":{"field":"g","type":"nominal"}}},
{"data":{"name":"leg"},"transform":[{"filter":"datum.p==='A' && datum.seg==='b'"}],
"mark":{"type":"text","align":"left","baseline":"middle","fontSize":23,"fontWeight":"bold","color":"#111"},
"encoding":{"x":{"field":"t","type":"quantitative"},"y":{"field":"s","type":"quantitative"},"text":{"field":"txt"}}},
{"data":{"name":"leg"},"transform":[{"filter":"datum.p==='A' && datum.seg==='i'"}],
"mark":{"type":"text","align":"left","baseline":"middle","fontSize":23,"fontWeight":"bold","fontStyle":"italic","color":"#111"},
"encoding":{"x":{"field":"t","type":"quantitative"},"y":{"field":"s","type":"quantitative"},"text":{"field":"txt"}}},
{"data":{"name":"leg"},"transform":[{"filter":"datum.p==='A' && datum.seg==='r'"}],
"mark":{"type":"text","align":"left","baseline":"middle","fontSize":23,"fontWeight":"normal","color":"#111"},
"encoding":{"x":{"field":"t","type":"quantitative"},"y":{"field":"s","type":"quantitative"},"text":{"field":"txt"}}},
{"data":{"name":"logrank"},"transform":[{"filter":"datum.p==='A'"}],
"mark":{"type":"text","align":"left","baseline":"middle","fontSize":23,"fontWeight":"bold","color":"#111"},
"encoding":{"x":{"field":"t","type":"quantitative"},"y":{"field":"s","type":"quantitative"},"text":{"field":"txt"}}}
]
},
{
"width":544,"height":421,
"title":{"text":"B","anchor":"start","frame":"group","dx":-117,"offset":-29,"fontSize":34,"fontWeight":"bold","baseline":"alphabetic"},
"layer":[
{"data":{"name":"km"},"transform":[{"filter":"datum.p==='B'"}],
"mark":{"type":"line","interpolate":"step-after","strokeWidth":1.4},
"encoding":{
"x":{"field":"t","type":"quantitative","scale":{"domain":[0,253],"nice":false,"zero":false},
"axis":{"values":[0,50,100,150,200,250],"title":"Time (months)","labelBaseline":"alphabetic","labelPadding":25,"labelFlush":false,"labelOverlap":false,"titleX":297,"titleY":69,"titleAlign":"center","titleBaseline":"alphabetic"}},
"y":{"field":"s","type":"quantitative","scale":{"domain":[-0.04,1.04],"nice":false,"zero":false},
"axis":{"values":[0,0.2,0.4,0.6,0.8,1],"format":".1f","title":"PFS","labelAngle":270,"labelAlign":"center","labelBaseline":"alphabetic","labelPadding":16,"labelFontSize":21,"labelFlush":false,"labelOverlap":false,"titleAngle":270,"titleX":-57,"titleY":219,"titleAlign":"center","titleBaseline":"alphabetic"}},
"color":{"field":"g","type":"nominal","scale":{"domain":["Low","High"],"range":["#111111","#d0232b"]},"legend":null}}},
{"data":{"name":"km"},"transform":[{"filter":"datum.p==='B' && datum.c===1"}],
"mark":{"type":"point","shape":"M-0.8,0H0.8M0,-1V1","size":100,"strokeWidth":1.4,"filled":false,"opacity":1},
"encoding":{"x":{"field":"t","type":"quantitative"},"y":{"field":"s","type":"quantitative"},"color":{"field":"g","type":"nominal"}}},
{"data":{"name":"legline"},"transform":[{"filter":"datum.p==='B'"}],
"mark":{"type":"rule","strokeWidth":1.6},
"encoding":{"x":{"field":"t","type":"quantitative"},"x2":{"field":"t2"},"y":{"field":"s","type":"quantitative"},"color":{"field":"g","type":"nominal"}}},
{"data":{"name":"leg"},"transform":[{"filter":"datum.p==='B' && datum.seg==='b'"}],
"mark":{"type":"text","align":"left","baseline":"middle","fontSize":23,"fontWeight":"bold","color":"#111"},
"encoding":{"x":{"field":"t","type":"quantitative"},"y":{"field":"s","type":"quantitative"},"text":{"field":"txt"}}},
{"data":{"name":"leg"},"transform":[{"filter":"datum.p==='B' && datum.seg==='i'"}],
"mark":{"type":"text","align":"left","baseline":"middle","fontSize":23,"fontWeight":"bold","fontStyle":"italic","color":"#111"},
"encoding":{"x":{"field":"t","type":"quantitative"},"y":{"field":"s","type":"quantitative"},"text":{"field":"txt"}}},
{"data":{"name":"leg"},"transform":[{"filter":"datum.p==='B' && datum.seg==='r'"}],
"mark":{"type":"text","align":"left","baseline":"middle","fontSize":23,"fontWeight":"normal","color":"#111"},
"encoding":{"x":{"field":"t","type":"quantitative"},"y":{"field":"s","type":"quantitative"},"text":{"field":"txt"}}},
{"data":{"name":"logrank"},"transform":[{"filter":"datum.p==='B'"}],
"mark":{"type":"text","align":"left","baseline":"middle","fontSize":23,"fontWeight":"bold","color":"#111"},
"encoding":{"x":{"field":"t","type":"quantitative"},"y":{"field":"s","type":"quantitative"},"text":{"field":"txt"}}}
]
},
{
"width":544,"height":64,
"view":{"stroke":null},
"title":{"text":"Number at risk","anchor":"start","frame":"group","dx":-76,"offset":-20,"fontSize":23,"fontWeight":"normal","baseline":"alphabetic"},
"data":{"name":"risk"},
"transform":[{"filter":"datum.p==='A'"}],
"mark":{"type":"text","fontSize":23,"align":"center","baseline":"middle","dx":-6,"color":"#111"},
"encoding":{
"x":{"field":"t","type":"quantitative","scale":{"domain":[0,253],"nice":false,"zero":false},"axis":null},
"y":{"field":"row","type":"nominal","scale":{"domain":["low","high"]},"axis":{"title":null,"ticks":false,"domain":false,"labelPadding":44,"labelFontSize":23,"labelFontWeight":"normal","labelAlign":"right","labelBaseline":"middle"}},
"text":{"field":"n","type":"quantitative"}}
},
{
"width":544,"height":64,
"view":{"stroke":null},
"title":{"text":"Number at risk","anchor":"start","frame":"group","dx":-52,"offset":-20,"fontSize":23,"fontWeight":"normal","baseline":"alphabetic"},
"data":{"name":"risk"},
"transform":[{"filter":"datum.p==='B'"}],
"mark":{"type":"text","fontSize":23,"align":"center","baseline":"middle","dx":17,"color":"#111"},
"encoding":{
"x":{"field":"t","type":"quantitative","scale":{"domain":[0,253],"nice":false,"zero":false},"axis":null},
"y":{"field":"row","type":"nominal","scale":{"domain":["low","high"]},"axis":{"title":null,"ticks":false,"domain":false,"labelPadding":20,"labelFontSize":23,"labelFontWeight":"normal","labelAlign":"right","labelBaseline":"middle"}},
"text":{"field":"n","type":"quantitative"}}
}
]
}
